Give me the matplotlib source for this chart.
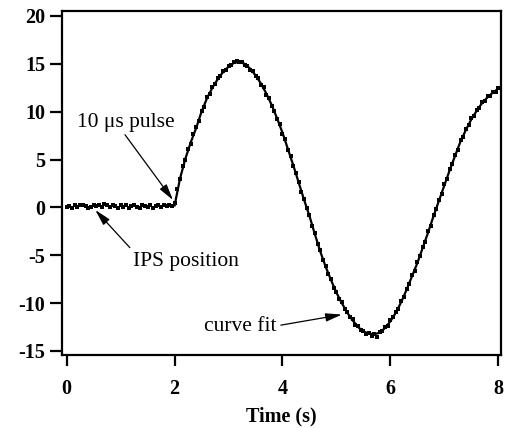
import numpy as np
import matplotlib
matplotlib.use("Agg")
import matplotlib.pyplot as plt

# measured IPS position, sampled every 0.05 s
t_data = np.round(np.arange(0, 161) * 0.05, 2)
pos_data = [
    0.0, 0.1, -0.1, 0.2, 0.0, 0.3, 0.2, 0.1, -0.1, 0.0,
    0.2, 0.1, 0.3, 0.0, 0.4, 0.2, 0.0, 0.3, 0.1, -0.1,
    0.2, 0.0, 0.3, -0.1, 0.1, 0.2, 0.0, -0.1, 0.2, 0.1,
    0.0, 0.2, -0.1, 0.1, 0.3, 0.0, 0.2, 0.1, 0.3, 0.1,
    0.5, 1.9, 3.0, 4.3, 5.0, 6.1, 6.6, 7.7, 8.4, 9.0,
    10.1, 10.5, 11.5, 11.9, 12.6, 12.9, 13.5, 13.7, 14.2, 14.4,
    14.8, 14.9, 15.2, 15.3, 15.2, 15.2, 14.9, 14.8, 14.4, 14.3,
    13.7, 13.5, 12.8, 12.6, 11.7, 11.4, 10.6, 10.1, 9.2, 8.7,
    7.7, 7.1, 6.0, 5.4, 4.3, 3.6, 2.7, 1.6, 0.9, -0.1,
    -0.8, -1.9, -2.7, -3.8, -4.5, -5.5, -6.1, -7.0, -7.5, -8.4,
    -8.8, -9.6, -9.9, -10.6, -10.9, -11.5, -11.7, -12.3, -12.4, -12.8,
    -12.9, -13.2, -13.1, -13.4, -13.2, -13.5, -13.0, -12.9, -12.5, -12.4,
    -11.8, -11.5, -10.9, -10.6, -9.8, -9.4, -8.5, -8.0, -7.1, -6.6,
    -5.7, -5.1, -4.1, -3.6, -2.5, -1.9, -0.8, -0.2, 0.8, 1.4,
    2.4, 3.0, 4.0, 4.5, 5.5, 6.0, 7.0, 7.4, 8.2, 8.6,
    9.3, 9.6, 10.2, 10.4, 11.0, 11.1, 11.6, 11.6, 12.1, 12.1,
    12.5,
]

# curve fit, every 0.1 s from the pulse on
t_fit = np.round(2.0 + np.arange(0, 61) * 0.1, 2)
pos_fit = [
    0.2, 3.0, 5.1, 6.8, 8.3, 10.0, 11.4, 12.5, 13.4, 14.15,
    14.7, 15.1, 15.2, 15.0, 14.5, 13.8, 12.95, 11.9, 10.7, 9.3,
    7.8, 6.1, 4.4, 2.6, 0.8, -0.9, -2.8, -4.6, -6.2, -7.6,
    -8.9, -10.0, -11.0, -11.8, -12.5, -12.95, -13.2, -13.25, -13.1, -12.6,
    -11.9, -11.0, -9.9, -8.6, -7.2, -5.8, -4.2, -2.6, -0.9, 0.7,
    2.3, 3.9, 5.4, 6.9, 8.1, 9.2, 10.1, 10.9, 11.5, 12.0,
    12.4,
]

x_ticks = [0, 2, 4, 6, 8]
y_ticks = [-15, -10, -5, 0, 5, 10, 15, 20]

plt.rcParams["font.family"] = ["Liberation Serif", "DejaVu Serif"]

fig = plt.figure(figsize=(5.07, 4.28), dpi=100)
ax = fig.add_axes([62 / 507, 1 - 355 / 428, (501 - 62) / 507, (355 - 11) / 428])

ax.plot(t_data, pos_data, ls="none", marker="s", ms=2.4, color="black", mew=0)
ax.plot(t_fit, pos_fit, color="black", lw=1.6)

ax.set_xlim(-0.087, 8.05)
ax.set_ylim(-15.42, 20.52)
ax.set_xticks(x_ticks)
ax.set_yticks(y_ticks)
ax.set_xticklabels([str(v) for v in x_ticks], fontweight="bold", fontsize=14.5)
ax.set_yticklabels([str(v) for v in y_ticks], fontweight="bold", fontsize=14.5)
ax.tick_params(axis="both", direction="out", width=1.6, color="black")
ax.tick_params(axis="y", length=9, pad=3)
ax.tick_params(axis="x", length=8, pad=9)
for s in ax.spines.values():
    s.set_linewidth(1.6)
ax.set_xlabel("Time (s)", fontweight="bold", fontsize=14.5, labelpad=6)

arrow = dict(arrowstyle="-|>,head_width=0.18,head_length=0.7", color="black",
             lw=0.9, shrinkA=0, shrinkB=0, mutation_scale=14)
ax.text(1.10, 8.9, "10 \u03bcs pulse", fontsize=15.5, ha="center", va="center")
ax.annotate("", xy=(1.97, 0.77), xytext=(1.08, 7.6), arrowprops=arrow)
ax.text(2.21, -5.6, "IPS position", fontsize=15.5, ha="center", va="center")
ax.annotate("", xy=(0.53, -0.27), xytext=(1.17, -4.2), arrowprops=arrow)
ax.text(3.21, -12.4, "curve fit", fontsize=15.5, ha="center", va="center")
ax.annotate("", xy=(5.10, -11.2), xytext=(3.97, -12.3), arrowprops=arrow)

fig.savefig("out.png", dpi=100)
